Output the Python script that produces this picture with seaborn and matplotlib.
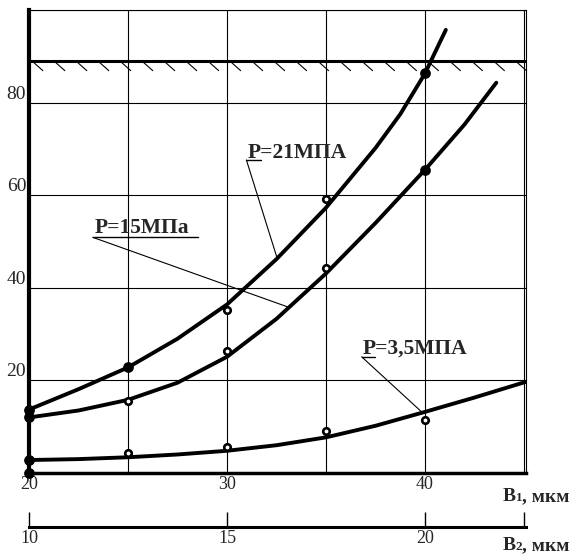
import numpy as np
import matplotlib
matplotlib.use("Agg")
import matplotlib.pyplot as plt
import seaborn as sns

# кривые
curve21_x = [20, 22.5, 25, 27.5, 30, 32.5, 35, 37.5, 38.75, 40, 40.5, 41.05]
curve21_y = [13.7, 18.1, 22.8, 29.0, 36.4, 46.2, 57.3, 70.2, 77.5, 86.3, 90.8, 95.7]

curve15_x = [20, 22.5, 25, 27.5, 30, 32.5, 35, 37.5, 40, 42, 43.6]
curve15_y = [12.0, 13.5, 15.8, 19.5, 25.1, 33.3, 43.1, 54.0, 65.5, 75.3, 84.3]

curve35_x = [20, 22.5, 25, 27.5, 30, 32.5, 35, 37.5, 40, 42.5, 45.1]
curve35_y = [2.8, 3.0, 3.4, 4.0, 4.8, 6.0, 7.7, 10.2, 13.2, 16.3, 19.7]

# экспериментальные точки
pts_x = [20, 25, 30, 35, 40]
pts21 = [13.7, 22.8, 35.1, 59.1, 86.3]
pts15 = [12.0, 15.5, 26.4, 44.3, 65.5]
pts35 = [2.8, 4.4, 5.7, 9.0, 11.5]
filled21 = [True, True, False, False, True]
filled15 = [True, False, False, False, True]
filled35 = [True, False, False, False, False]
origin_pt = (20, 0)

limit_y = 89  # предельная линия

x_ticks = [20, 25, 30, 35, 40, 45]
x_labels = ["20", "", "30", "", "40", ""]
y_ticks = [0, 20, 40, 60, 80, 100]
y_labels = ["", "20", "40", "60", "80", ""]
b2_ticks = [10, 15, 20, 22.5]
b2_labels = ["10", "15", "20", ""]

sns.set_theme(style="white")
plt.rcParams["font.family"] = ["Liberation Serif", "DejaVu Serif"]

fig = plt.figure(figsize=(5.76, 5.56), dpi=100)
ax = fig.add_axes([29 / 576, 1 - 473 / 556, 497 / 576, 463 / 556])
ax.set_xlim(20, 45.1)
ax.set_ylim(0, 100)

# сетка
ax.set_xticks(x_ticks)
ax.set_xticklabels(x_labels, fontsize=13)
ax.set_yticks(y_ticks)
ax.set_yticklabels(y_labels, fontsize=14, va="bottom")
ax.grid(True, color="black", lw=0.8)
ax.set_axisbelow(True)
ax.tick_params(axis="both", length=0, pad=2)

for s in ["top", "right"]:
    ax.spines[s].set_linewidth(0.8)
    ax.spines[s].set_color("black")
ax.spines["left"].set_linewidth(3)
ax.spines["left"].set_color("black")
ax.spines["bottom"].set_linewidth(2.5)
ax.spines["bottom"].set_color("black")

# предельная линия со штриховкой
ax.axhline(limit_y, color="black", lw=2.2, zorder=3)
for hx in np.arange(20.2, 45.0, 1.11):
    ax.plot([hx, hx + 0.5], [limit_y - 0.2, limit_y - 2.1], color="black", lw=0.8, zorder=3)

# кривые
for cx, cy in [(curve21_x, curve21_y), (curve15_x, curve15_y), (curve35_x, curve35_y)]:
    sns.lineplot(x=cx, y=cy, ax=ax, color="black", lw=2.8, zorder=4,
                 solid_joinstyle="round", solid_capstyle="round")

# точки
for py, fl in [(pts21, filled21), (pts15, filled15), (pts35, filled35)]:
    fx = [x for x, f in zip(pts_x, fl) if f]
    fy = [y for y, f in zip(py, fl) if f]
    ox = [x for x, f in zip(pts_x, fl) if not f]
    oy = [y for y, f in zip(py, fl) if not f]
    ax.scatter(fx, fy, s=45, color="black", zorder=5, clip_on=False)
    ax.scatter(ox, oy, s=22, facecolor="white", edgecolor="black", linewidth=1.9, zorder=5)
ax.scatter([origin_pt[0]], [origin_pt[1]], s=45, color="black", zorder=5, clip_on=False)

# подписи кривых
labels = [
    ("P=21МПА", (31.06, 68.0), (30.98, 31.74, 67.6), (32.51, 46.7)),
    ("P=15МПа", (23.33, 51.8), (23.22, 28.54, 50.9), (33.08, 35.85)),
    ("P=3,5МПА", (36.87, 25.7), (36.80, 37.47, 25.1), (39.83, 13.2)),
]
for txt, (tx, ty), (u0, u1, uy), xy in labels:
    ax.text(tx, ty, txt, fontsize=15.5, fontweight="bold", va="baseline", zorder=6)
    ax.plot([u0, u1], [uy, uy], color="black", lw=1.0, zorder=6)
    ax.annotate("", xy=xy, xytext=(u0, uy),
                arrowprops=dict(arrowstyle="-", lw=0.8, color="black", shrinkA=0, shrinkB=0))

# вторая шкала B2
sec = ax.secondary_xaxis("bottom", functions=(lambda x: 10 + (x - 20) / 2, lambda x: 20 + (x - 10) * 2))
sec.spines["bottom"].set_position(("outward", 39))
sec.spines["bottom"].set_linewidth(2.2)
sec.spines["bottom"].set_color("black")
sec.set_xticks(b2_ticks)
sec.set_xticklabels(b2_labels, fontsize=13)
sec.tick_params(direction="in", length=11, width=1, pad=2, color="black")

# подписи осей: B, маленькая цифра, ", мкм"
for base_y, idx in [(501, "1"), (550, "2")]:
    yy = 1 - base_y / 556
    fig.text(503 / 576, yy, "B", fontsize=14, fontweight="bold", va="baseline")
    fig.text(516 / 576, yy, idx, fontsize=9.5, fontweight="bold", va="baseline")
    fig.text(522 / 576, yy, ", мкм", fontsize=14, fontweight="bold", va="baseline")

fig.savefig("out.png", dpi=100)
